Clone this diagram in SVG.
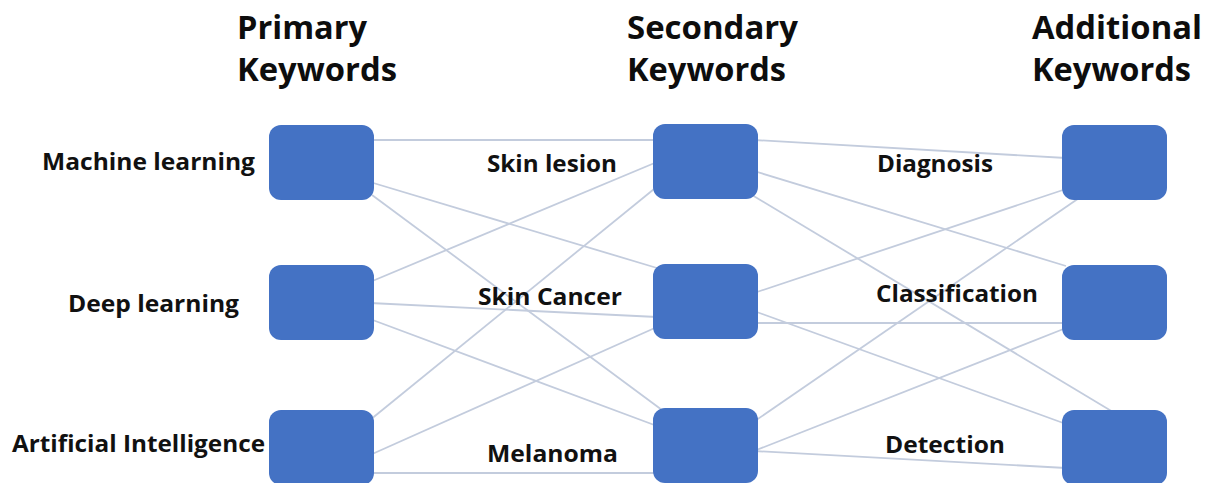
<svg xmlns="http://www.w3.org/2000/svg" width="1211" height="483" viewBox="0 0 1211 483">
<style>
.node{fill:#4472C4;}
.hd{font-family:"Open Sans","Liberation Sans",sans-serif;font-weight:bold;font-size:32px;fill:#0d0d0d;}
.lb{font-family:"Open Sans","Liberation Sans",sans-serif;font-weight:bold;font-size:23.5px;fill:#111111;}
.cn line{stroke:#C3CCDD;stroke-width:1.8;}
</style>
<rect width="1211" height="483" fill="#ffffff"/>
<g id="headers">
<text class="hd" x="237" y="39" textLength="130" lengthAdjust="spacingAndGlyphs">Primary</text>
<text class="hd" x="237" y="81" textLength="160" lengthAdjust="spacingAndGlyphs">Keywords</text>
<text class="hd" x="627" y="39" textLength="171" lengthAdjust="spacingAndGlyphs">Secondary</text>
<text class="hd" x="627" y="81" textLength="159" lengthAdjust="spacingAndGlyphs">Keywords</text>
<text class="hd" x="1032" y="39" textLength="170" lengthAdjust="spacingAndGlyphs">Additional</text>
<text class="hd" x="1032" y="81" textLength="159" lengthAdjust="spacingAndGlyphs">Keywords</text>
</g>
<g id="connectors" class="cn">
<line x1="370" y1="140" x2="657" y2="140"/>
<line x1="370" y1="182" x2="657" y2="268"/>
<line x1="372" y1="195" x2="662" y2="410"/>
<line x1="370" y1="282" x2="657" y2="162"/>
<line x1="370" y1="303" x2="657" y2="317"/>
<line x1="370" y1="319" x2="657" y2="426"/>
<line x1="370" y1="420" x2="659" y2="185"/>
<line x1="370" y1="455" x2="657" y2="327"/>
<line x1="370" y1="473" x2="657" y2="473"/>
<line x1="754" y1="140" x2="1066" y2="158"/>
<line x1="754" y1="171" x2="1066" y2="266"/>
<line x1="752" y1="195" x2="1113" y2="412"/>
<line x1="754" y1="293" x2="1066" y2="189"/>
<line x1="754" y1="323" x2="1066" y2="323"/>
<line x1="754" y1="311" x2="1066" y2="424"/>
<line x1="752" y1="423" x2="1082" y2="196"/>
<line x1="754" y1="451" x2="1066" y2="328"/>
<line x1="754" y1="451" x2="1066" y2="468"/>
</g>
<g id="node-machine-learning">
<rect class="node" x="269" y="125" width="105" height="75" rx="12"/>
<text class="lb" x="42" y="170" textLength="213" lengthAdjust="spacingAndGlyphs">Machine learning</text>
</g>
<g id="node-deep-learning">
<rect class="node" x="269" y="265" width="105" height="75" rx="12"/>
<text class="lb" x="68" y="312" textLength="171" lengthAdjust="spacingAndGlyphs">Deep learning</text>
</g>
<g id="node-artificial-intelligence">
<rect class="node" x="269" y="410" width="105" height="75" rx="12"/>
<text class="lb" x="12" y="452" textLength="253" lengthAdjust="spacingAndGlyphs">Artificial Intelligence</text>
</g>
<g id="node-skin-lesion">
<rect class="node" x="653" y="124" width="105" height="75" rx="12"/>
<text class="lb" x="487" y="172" textLength="130" lengthAdjust="spacingAndGlyphs">Skin lesion</text>
</g>
<g id="node-skin-cancer">
<rect class="node" x="653" y="264" width="105" height="75" rx="12"/>
<text class="lb" x="478" y="305" textLength="144" lengthAdjust="spacingAndGlyphs">Skin Cancer</text>
</g>
<g id="node-melanoma">
<rect class="node" x="653" y="408" width="105" height="75" rx="12"/>
<text class="lb" x="487" y="462" textLength="131" lengthAdjust="spacingAndGlyphs">Melanoma</text>
</g>
<g id="node-diagnosis">
<rect class="node" x="1062" y="125" width="105" height="75" rx="12"/>
<text class="lb" x="877" y="172" textLength="116" lengthAdjust="spacingAndGlyphs">Diagnosis</text>
</g>
<g id="node-classification">
<rect class="node" x="1062" y="265" width="105" height="75" rx="12"/>
<text class="lb" x="876" y="302" textLength="162" lengthAdjust="spacingAndGlyphs">Classification</text>
</g>
<g id="node-detection">
<rect class="node" x="1062" y="410" width="105" height="75" rx="12"/>
<text class="lb" x="885" y="453" textLength="120" lengthAdjust="spacingAndGlyphs">Detection</text>
</g>
</svg>
